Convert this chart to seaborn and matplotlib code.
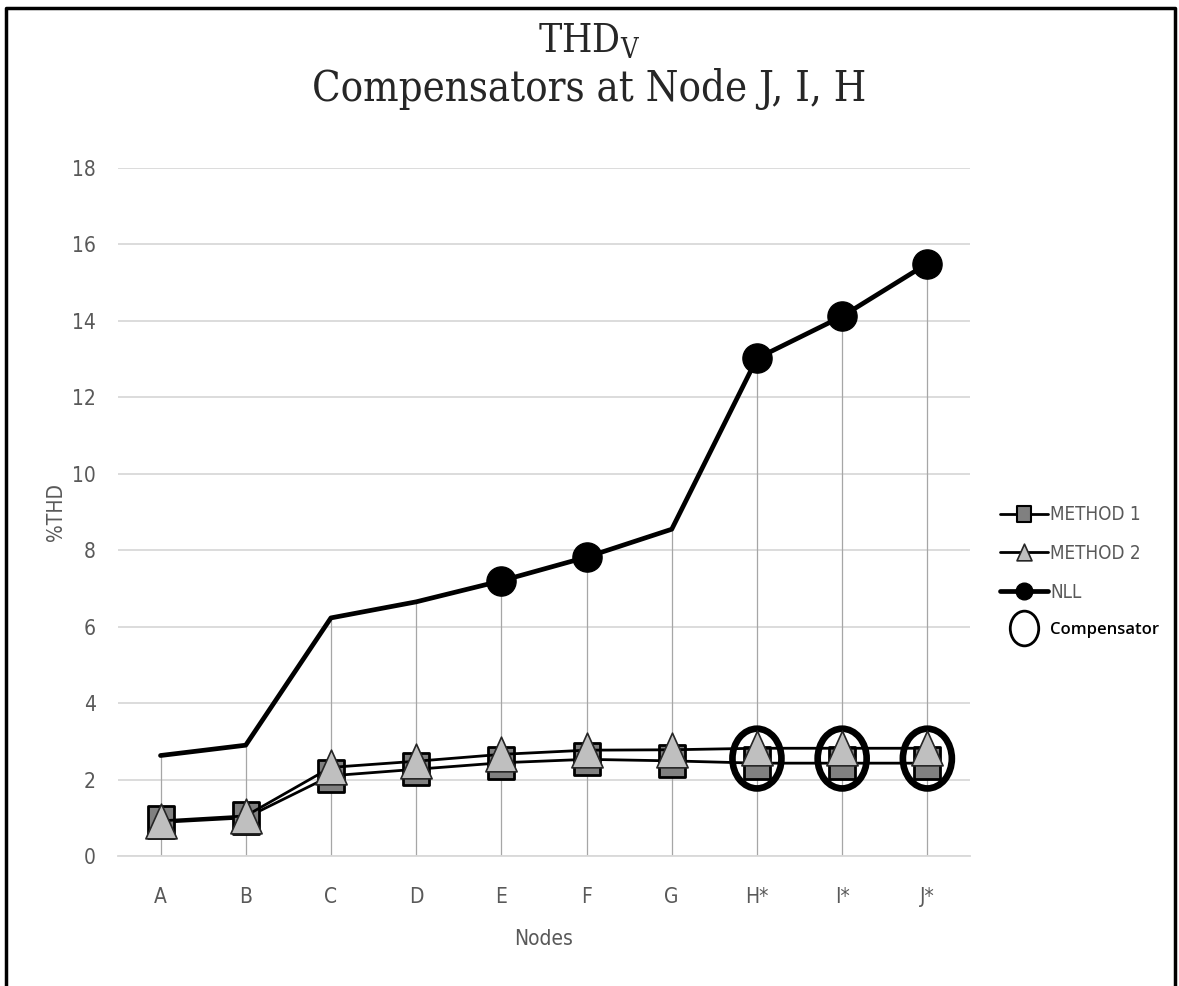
import matplotlib
matplotlib.use("Agg")
import matplotlib.pyplot as plt
import seaborn as sns
from matplotlib.lines import Line2D
from matplotlib.path import Path
from matplotlib.transforms import Affine2D

# datos
nodos = ["A", "B", "C", "D", "E", "F", "G", "H*", "I*", "J*"]
metodo1 = [0.88, 1.0, 2.1, 2.27, 2.44, 2.53, 2.49, 2.43, 2.43, 2.43]
metodo2 = [0.92, 1.05, 2.32, 2.48, 2.66, 2.77, 2.78, 2.82, 2.82, 2.82]
nll = [2.63, 2.9, 6.23, 6.65, 7.2, 7.82, 8.55, 13.02, 14.12, 15.5]

# nodos de NLL con marcador
nll_marc = ["E", "F", "H*", "I*", "J*"]
nll_marc_val = [7.2, 7.82, 13.02, 14.12, 15.5]

# compensadores
comp_nodos = ["H*", "I*", "J*"]
comp_val = [2.55, 2.55, 2.55]

gris = "#595959"

sns.set_style("white")
plt.rcParams["font.family"] = ["DejaVu Sans"]
plt.rcParams["font.stretch"] = "condensed"

# marcadores un poco mas altos que anchos, como en la imagen
estirar = Affine2D().scale(0.82, 1.0)
elipse = estirar.transform_path(Path.unit_circle())
rect = estirar.transform_path(Path.unit_rectangle().transformed(Affine2D().translate(-0.5, -0.5)))
tri = Affine2D().scale(0.9, 1.0).transform_path(
    Path([(0, 1), (-1, -1), (1, -1), (0, 1)], closed=True))

fig = plt.figure(figsize=(11.79, 9.86), dpi=100)
ax = fig.add_axes([0.1, 0.1318, 0.7227, 0.6978])

# lineas verticales hasta el valor maximo
ax.vlines(nodos, 0, nll, color="#a6a6a6", linewidth=0.9, zorder=1)

sns.lineplot(x=nodos, y=nll, ax=ax, sort=False, color="black", linewidth=3.4, zorder=3)
sns.scatterplot(x=nll_marc, y=nll_marc_val, ax=ax, marker="o", s=21 ** 2, color="black",
                edgecolor="black", linewidth=1, zorder=4)

sns.lineplot(x=nodos, y=metodo1, ax=ax, sort=False, color="black", linewidth=2,
             marker=rect, markersize=23, markerfacecolor="#808080",
             markeredgecolor="black", markeredgewidth=2, zorder=5)

sns.scatterplot(x=comp_nodos, y=comp_val, ax=ax, marker=elipse, s=43 ** 2,
                facecolor="none", edgecolor="black", linewidth=4.8, zorder=6)

sns.lineplot(x=nodos, y=metodo2, ax=ax, sort=False, color="black", linewidth=2,
             marker=tri, markersize=25, markerfacecolor="#bfbfbf",
             markeredgecolor="#262626", markeredgewidth=1.2, zorder=7)

ax.set_xlim(-0.5, 9.5)
ax.set_ylim(0, 18)
ax.set_yticks(range(0, 19, 2))
ax.grid(axis="y", color="#d9d9d9", linewidth=1.3)
ax.set_axisbelow(True)
for lado in ["top", "right", "left"]:
    ax.spines[lado].set_visible(False)
ax.spines["bottom"].set_color("#d9d9d9")
ax.spines["bottom"].set_linewidth(1.3)
ax.tick_params(axis="both", length=0, labelsize=15, colors=gris)
ax.tick_params(axis="x", pad=22)
ax.tick_params(axis="y", pad=16)
ax.set_xlabel("Nodes", fontsize=15, color=gris, labelpad=16)
ax.set_ylabel("%THD", fontsize=15, color=gris, labelpad=4)

# titulo
fig.text(0.5, 0.958, r"THD$_\mathregular{V}$", ha="center", va="center",
         fontsize=28, family="DejaVu Serif")
fig.text(0.5, 0.91, "Compensators at Node J, I, H", ha="center", va="center",
         fontsize=30, family="DejaVu Serif")

# leyenda
manejadores = [
    Line2D([], [], color="black", linewidth=2, marker=rect, markersize=12,
           markerfacecolor="#808080", markeredgecolor="black", markeredgewidth=1.5),
    Line2D([], [], color="black", linewidth=2, marker=tri, markersize=12,
           markerfacecolor="#bfbfbf", markeredgecolor="#262626", markeredgewidth=1.2),
    Line2D([], [], color="black", linewidth=3.4, marker="o", markersize=12,
           markerfacecolor="black", markeredgecolor="black"),
    Line2D([], [], linestyle="none", marker=elipse, markersize=25,
           markerfacecolor="none", markeredgecolor="black", markeredgewidth=2),
]
etiquetas = ["METHOD 1", "METHOD 2", "NLL", "Compensator"]
ley = ax.legend(manejadores, etiquetas, loc="center left", bbox_to_anchor=(1.015, 0.413),
                frameon=False, fontsize=13.5, handlelength=2.6, handletextpad=0.1,
                labelspacing=1.05)
for t in ley.get_texts()[:3]:
    t.set_color(gris)
ultimo = ley.get_texts()[3]
ultimo.set_color("black")
ultimo.set_fontsize(12)
ultimo.set_fontweight("semibold")
ultimo.set_family(["Open Sans", "DejaVu Sans"])
ultimo.set_fontstretch("normal")

# borde exterior
fig.add_artist(Line2D([0.005, 0.005, 0.997, 0.997], [0.0, 0.992, 0.992, 0.0],
                      transform=fig.transFigure, color="black", linewidth=2.5))

fig.savefig("out.png", dpi=100)
